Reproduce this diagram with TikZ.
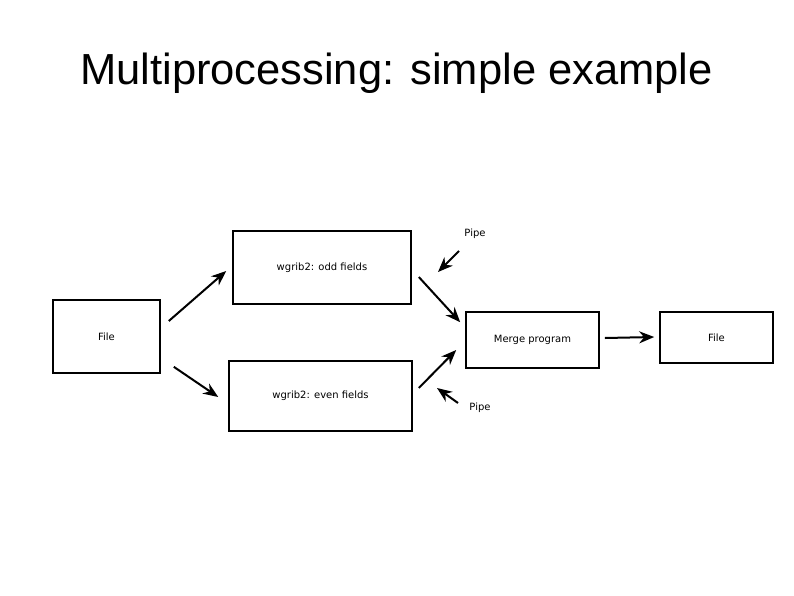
\documentclass[tikz,border=0pt]{standalone}
\usepackage{fontspec}
\setmainfont{DejaVu Sans}
\newfontfamily\titlefont{Liberation Sans}
\usetikzlibrary{arrows.meta}
\begin{document}
\begin{tikzpicture}[x=1pt,y=-1pt,
  box/.style={draw,line width=1.6pt,inner sep=0pt,font=\fontsize{10}{12}\selectfont},
  lbl/.style={inner sep=0pt,font=\fontsize{10}{12}\selectfont},
  arr/.style={line width=2pt,-{Stealth[length=15pt,width=12pt]}}]
\useasboundingbox (0,0) rectangle (794,595);
\node[inner sep=0pt,font=\titlefont\fontsize{43.5}{50}\selectfont] (title) at (396.5,73) {Multiprocessing: simple example};
\node[box,minimum width=107pt,minimum height=73pt] (filein) at (106.5,336.5) {File};
\node[box,minimum width=178pt,minimum height=73pt] (odd) at (322,267.5) {wgrib2: odd fields};
\node[box,minimum width=183pt,minimum height=70pt] (even) at (320.5,396) {wgrib2: even fields};
\node[box,minimum width=133pt,minimum height=56pt] (merge) at (532.5,340) {Merge program};
\node[box,minimum width=113pt,minimum height=51pt] (fileout) at (716.5,337.5) {File};
\node[lbl] (pipetop) at (475,234) {Pipe};
\node[lbl] (pipebot) at (480,408) {Pipe};
\draw[arr] ([shift={(8,-15.5)}]filein.east) -- ([shift={(-6,3.5)}]odd.west);
\draw[arr] ([shift={(13,-7)}]filein.south east) -- ([shift={(-10,1)}]even.west);
\draw[arr] ([shift={(7,9.5)}]odd.east) -- ([shift={(-5,11)}]merge.north west);
\draw[arr] ([shift={(6,-8)}]even.east) -- ([shift={(-9,10)}]merge.west);
\draw[arr] ([shift={(5,-2)}]merge.east) -- ([shift={(-5,-0.5)}]fileout.west);
\draw[arr] ([shift={(-16,17)}]pipetop.center) -- ([shift={(-37,38)}]pipetop.center);
\draw[arr] ([shift={(-22,-5)}]pipebot.center) -- ([shift={(-43,-20)}]pipebot.center);
\end{tikzpicture}
\end{document}
